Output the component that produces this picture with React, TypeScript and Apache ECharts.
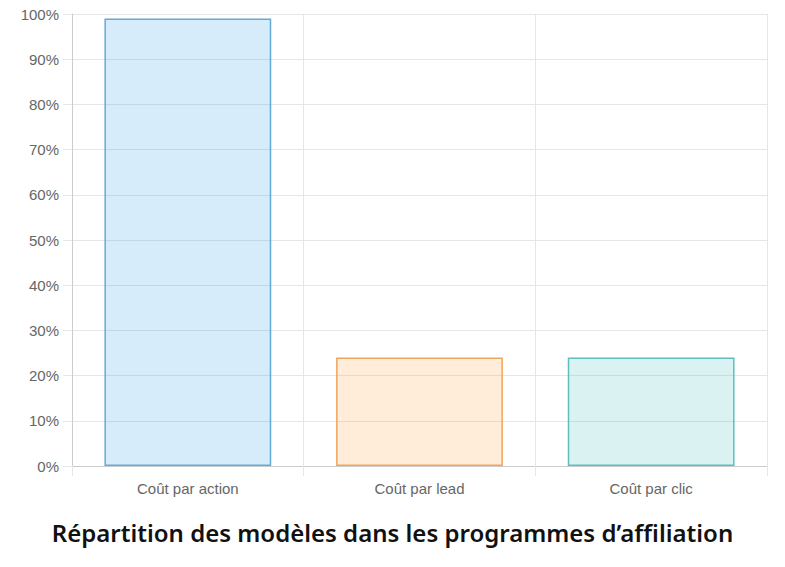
import React, { useEffect, useRef } from "react";
import * as echarts from "echarts";

const categories = ["Coût par action", "Coût par lead", "Coût par clic"];
const values = [99, 24, 24];
const fillColors = ["rgba(54,162,235,0.2)", "rgba(255,159,64,0.2)", "rgba(75,192,192,0.2)"];
const borderColors = ["rgb(100,170,215)", "rgb(240,165,95)", "rgb(95,190,190)"];
const titleText = "Répartition des modèles dans les programmes d’affiliation";

export default function App() {
  const ref = useRef<HTMLDivElement>(null);
  useEffect(() => {
    const chart = echarts.init(ref.current!, null, { renderer: "svg" });
    chart.setOption({
      animation: false,
      title: {
        text: titleText,
        left: "center",
        top: 515,
        textStyle: { fontFamily: "Noto Sans", fontWeight: 600, fontSize: 24, color: "#111" },
      },
      grid: { left: 72, right: 18, top: 14, bottom: 101 },
      xAxis: {
        type: "category",
        data: categories,
        boundaryGap: true,
        axisLine: { show: true, lineStyle: { color: "#ccc" } },
        axisTick: { show: true, length: 10, lineStyle: { color: "#e6e6e6" } },
        splitLine: { show: true, lineStyle: { color: "#e6e6e6" } },
        axisLabel: { color: "#666", fontSize: 15, fontFamily: "Liberation Sans", margin: 15 },
      },
      yAxis: {
        type: "value",
        min: 0,
        max: 100,
        interval: 10,
        axisLine: { show: true, lineStyle: { color: "#ccc" } },
        axisTick: { show: true, length: 9, lineStyle: { color: "#e6e6e6" } },
        splitLine: { show: true, lineStyle: { color: "#e6e6e6" } },
        axisLabel: { color: "#666", fontSize: 15, fontFamily: "Liberation Sans", margin: 13, formatter: "{value}%" },
      },
      series: [
        {
          type: "bar",
          barCategoryGap: "28%",
          data: values.map((v, i) => ({
            value: v,
            itemStyle: { color: fillColors[i], borderColor: borderColors[i], borderWidth: 1.5 },
          })),
        },
      ],
    });
    return () => chart.dispose();
  }, []);
  return <div ref={ref} style={{ width: 785, height: 567, margin: -8 }} />;
}
